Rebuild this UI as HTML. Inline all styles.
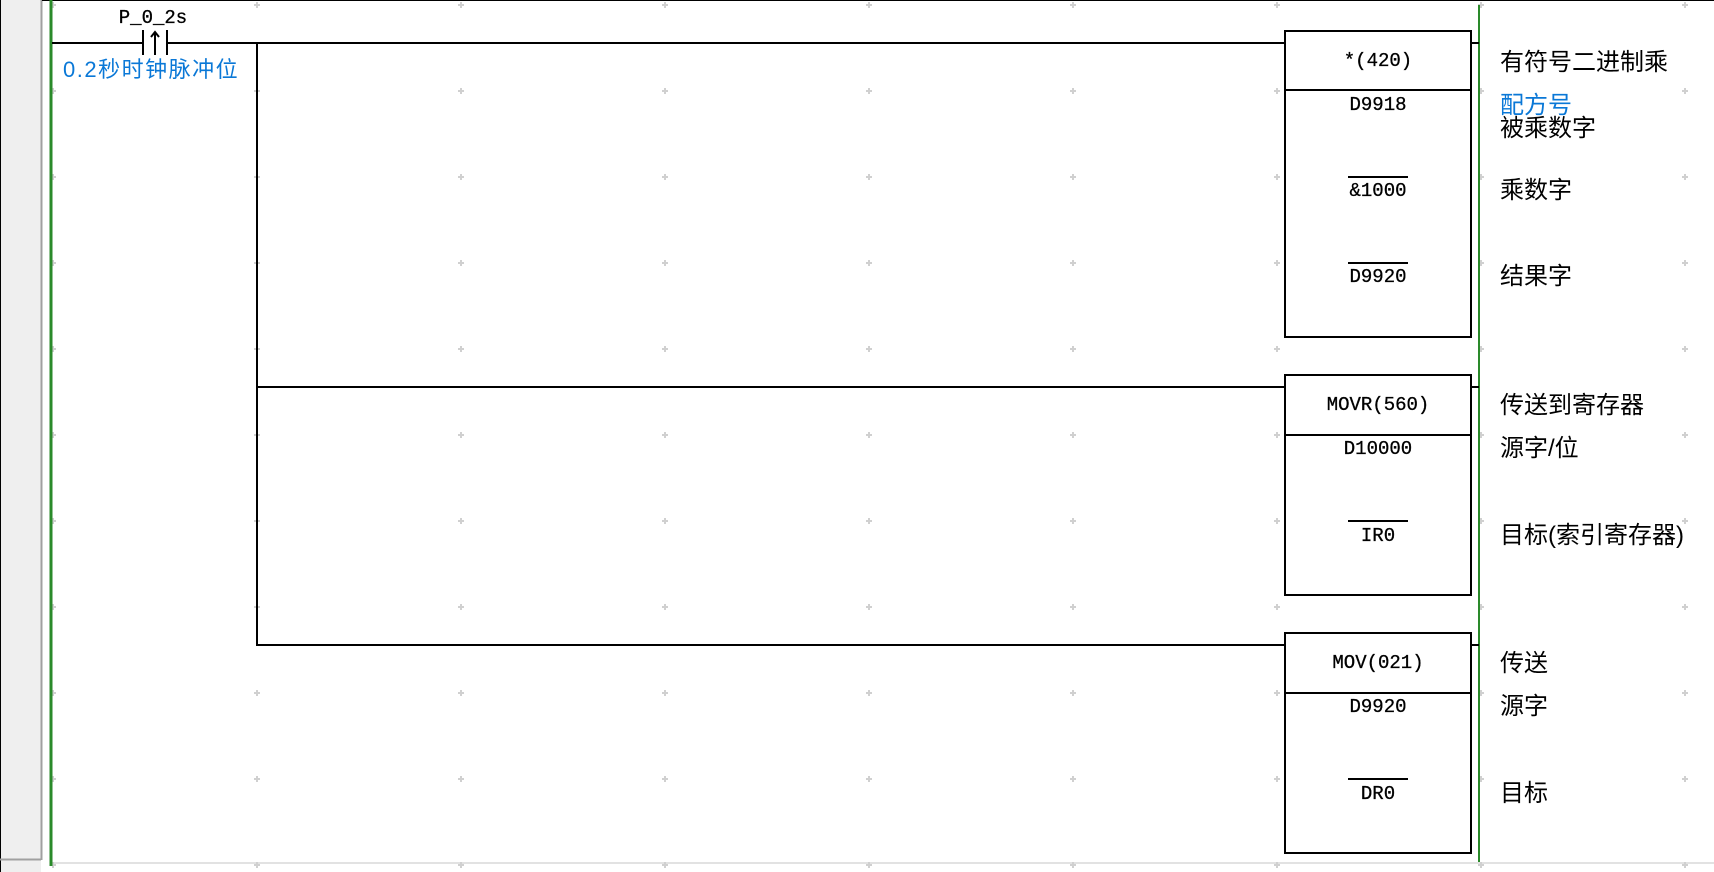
<!DOCTYPE html>
<html><head><meta charset="utf-8">
<style>
html,body{margin:0;padding:0;width:1714px;height:872px;overflow:hidden;background:#fff;}
svg{display:block}
.m{font-family:"Liberation Mono","DejaVu Sans Mono",monospace;font-size:19px;fill:#000;text-anchor:middle;stroke:#000;stroke-width:0.3;}
.c{font-family:"Liberation Sans","Noto Sans CJK SC",sans-serif;font-size:24px;fill:#000;}
.b{fill:#0a78d7;}
</style></head><body>
<svg width="1714" height="872" xmlns="http://www.w3.org/2000/svg">
<defs>
<pattern id="pl" x="50" y="2" width="204" height="86" patternUnits="userSpaceOnUse">
<path d="M0 3H6M3 0V6" stroke="#d0d0d0" stroke-width="2"/>
</pattern>
</defs>
<rect x="0" y="0" width="41" height="872" fill="#efefef"/>
<line x1="0.5" y1="0" x2="0.5" y2="872" stroke="#000"/>
<line x1="41.5" y1="0" x2="41.5" y2="860" stroke="#a0a0a0" stroke-width="2"/>
<line x1="0" y1="859.5" x2="41" y2="859.5" stroke="#a0a0a0" stroke-width="2"/>
<line x1="42" y1="0.5" x2="1714" y2="0.5" stroke="#000"/>
<line x1="52" y1="863" x2="1714" y2="863" stroke="#e2e2e2" stroke-width="2"/>
<rect x="50" y="2" width="1664" height="870" fill="url(#pl)"/>
<line x1="51" y1="0" x2="51" y2="866" stroke="#2a8a2a" stroke-width="3"/>
<line x1="1479" y1="5" x2="1479" y2="862" stroke="#2a8a2a" stroke-width="2"/>
<g stroke="#000" stroke-width="2" fill="none">
<line x1="52" y1="43" x2="143" y2="43"/>
<line x1="167" y1="43" x2="1285" y2="43"/>
<line x1="143" y1="30" x2="143" y2="55"/>
<line x1="167" y1="30" x2="167" y2="55"/>
<line x1="155" y1="32" x2="155" y2="55"/>
<polyline points="151,37 155,32 159,37"/>
<line x1="257" y1="43" x2="257" y2="646"/>
<line x1="257" y1="387" x2="1285" y2="387"/>
<line x1="257" y1="645" x2="1285" y2="645"/>
<rect x="1285" y="31" width="186" height="306"/>
<line x1="1285" y1="90" x2="1471" y2="90"/>
<rect x="1285" y="375" width="186" height="220"/>
<line x1="1285" y1="435" x2="1471" y2="435"/>
<rect x="1285" y="633" width="186" height="220"/>
<line x1="1285" y1="693" x2="1471" y2="693"/>
<line x1="1471" y1="43" x2="1479" y2="43"/>
<line x1="1471" y1="387" x2="1479" y2="387"/>
<line x1="1471" y1="645" x2="1479" y2="645"/>
<line x1="1348" y1="177" x2="1408" y2="177"/>
<line x1="1348" y1="263" x2="1408" y2="263"/>
<line x1="1348" y1="521" x2="1408" y2="521"/>
<line x1="1348" y1="779" x2="1408" y2="779"/>
</g>
<text class="m" x="153" y="23">P_0_2s</text>
<text class="c b" x="63" y="77" style="font-size:22px;letter-spacing:1.5px">0.2秒时钟脉冲位</text>
<text class="m" x="1378" y="66">*(420)</text>
<text class="m" x="1378" y="110">D9918</text>
<text class="m" x="1378" y="196">&amp;1000</text>
<text class="m" x="1378" y="282">D9920</text>
<text class="m" x="1378" y="410">MOVR(560)</text>
<text class="m" x="1378" y="454">D10000</text>
<text class="m" x="1378" y="541">IR0</text>
<text class="m" x="1378" y="668">MOV(021)</text>
<text class="m" x="1378" y="712">D9920</text>
<text class="m" x="1378" y="799">DR0</text>
<text class="c" x="1500" y="70">有符号二进制乘</text>
<text class="c b" x="1500" y="113">配方号</text>
<text class="c" x="1500" y="136">被乘数字</text>
<text class="c" x="1500" y="198">乘数字</text>
<text class="c" x="1500" y="284">结果字</text>
<text class="c" x="1500" y="413">传送到寄存器</text>
<text class="c" x="1500" y="456">源字/位</text>
<text class="c" x="1500" y="543">目标(索引寄存器)</text>
<text class="c" x="1500" y="671">传送</text>
<text class="c" x="1500" y="714">源字</text>
<text class="c" x="1500" y="801">目标</text>
</svg>
</body></html>
